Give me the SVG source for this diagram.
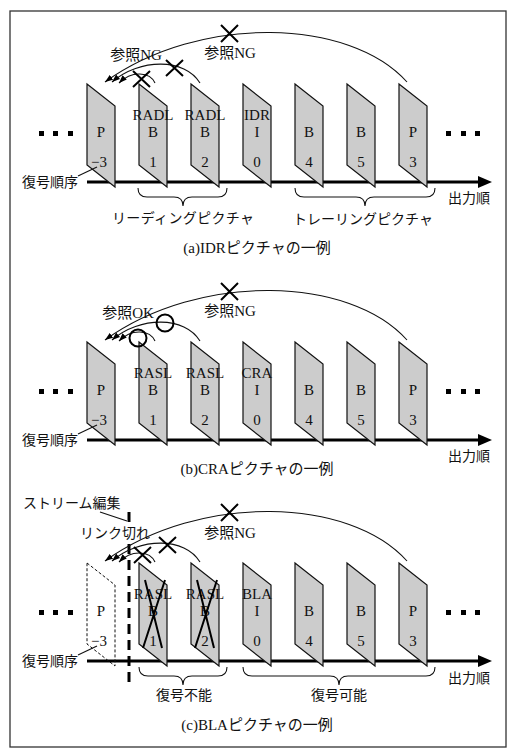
<svg xmlns="http://www.w3.org/2000/svg" width="512" height="752" viewBox="0 0 512 752">
<style>
text{font-family:"Liberation Serif","Noto Sans CJK JP",serif;fill:#111}
.l{font-size:15px;text-anchor:middle}
.j{font-size:14px;font-family:"Noto Sans CJK JP",sans-serif}
.jm{font-size:14px;font-family:"Noto Sans CJK JP",sans-serif;text-anchor:middle}
.cap{font-size:15px;text-anchor:middle}
.pic{fill:#cccccc;stroke:#111;stroke-width:1.2}
.dpic{fill:none;stroke:#111;stroke-width:1;stroke-dasharray:3 2}
.axis{stroke:#000;stroke-width:3.2}
.thin{fill:none;stroke:#111;stroke-width:1.1}
.arc{fill:none;stroke:#111;stroke-width:1.1;marker-end:url(#ah)}
.x{stroke:#000;stroke-width:2}
.o{fill:none;stroke:#000;stroke-width:2}
.cr{stroke:#000;stroke-width:2}
.dot{fill:#000}
</style>
<defs>
<marker id="ah" markerUnits="userSpaceOnUse" markerWidth="9" markerHeight="6" refX="8" refY="3" orient="auto"><path d="M0,0 L8,3 L0,6 z" fill="#000"/></marker>
<g id="dots"><rect class="dot" x="39" y="131" width="5" height="5"/><rect class="dot" x="53" y="131" width="5" height="5"/><rect class="dot" x="68" y="131" width="5" height="5"/><rect class="dot" x="446" y="131" width="5" height="5"/><rect class="dot" x="461" y="131" width="5" height="5"/><rect class="dot" x="475" y="131" width="5" height="5"/></g>
<g id="axisdef"><line class="axis" x1="87" y1="182" x2="480" y2="182"/><polygon points="478,176 492,182 478,188" fill="#000"/></g>
</defs>
<rect x="10" y="11" width="496" height="736" fill="none" stroke="#333" stroke-width="1.3"/>

<!-- Panel (a) -->
<g id="panel-a">
<use href="#dots"/>
<use href="#axisdef"/>
<g id="a-p-3"><polygon class="pic" points="87,84 115,106 115,187 87,165"/><text class="l" x="101" y="137">P</text><text class="l" x="99" y="167">−3</text></g>
<g id="a-b1"><polygon class="pic" points="139,84 167,106 167,187 139,165"/><text class="l" x="153" y="120">RADL</text><text class="l" x="153" y="137">B</text><text class="l" x="153" y="167">1</text></g>
<g id="a-b2"><polygon class="pic" points="191,84 219,106 219,187 191,165"/><text class="l" x="205" y="120">RADL</text><text class="l" x="205" y="137">B</text><text class="l" x="205" y="167">2</text></g>
<g id="a-i0"><polygon class="pic" points="243,84 271,106 271,187 243,165"/><text class="l" x="257" y="120">IDR</text><text class="l" x="257" y="137">I</text><text class="l" x="257" y="167">0</text></g>
<g id="a-b4"><polygon class="pic" points="295,84 323,106 323,187 295,165"/><text class="l" x="309" y="137">B</text><text class="l" x="309" y="167">4</text></g>
<g id="a-b5"><polygon class="pic" points="347,84 375,106 375,187 347,165"/><text class="l" x="361" y="137">B</text><text class="l" x="361" y="167">5</text></g>
<g id="a-p3"><polygon class="pic" points="399,84 427,106 427,187 399,165"/><text class="l" x="413" y="137">P</text><text class="l" x="413" y="167">3</text></g>
<g id="a-labels">
<text class="j" x="22" y="187">復号順序</text>
<line class="thin" x1="78" y1="176" x2="97" y2="167"/>
<text class="j" x="448" y="203">出力順</text>
<path class="thin" d="M138 188 Q138 197 147 197 L174 197 Q183 197 183 206 Q183 197 192 197 L218 197 Q227 197 227 188"/>
<path class="thin" d="M295 188 Q295 197 304 197 L356 197 Q365 197 365 206 Q365 197 374 197 L426 197 Q435 197 435 188"/>
<text class="jm" x="183" y="223" textLength="142">リーディングピクチャ</text>
<text class="jm" x="363" y="224" textLength="140">トレーリングピクチャ</text>
<text class="l" x="136" y="60">参照NG</text>
<text class="l" x="230" y="58">参照NG</text>
<text class="cap" x="257" y="253">(a)IDRピクチャの一例</text>
</g>
<g id="a-connectors">
<path class="arc" d="M407 82 C350 18 200 14 105 82"/>
<path class="arc" d="M200 83 C185 58 140 58 112 82"/>
<path class="arc" d="M155 83 C150 72 132 70 119 83"/>
<path class="x" d="M221 25 L238 42 M238 25 L221 42"/>
<path class="x" d="M166 60 L183 76 M183 60 L166 76"/>
<path class="x" d="M133 71 L150 87 M150 71 L133 87"/>
</g>
</g>

<!-- Panel (b) -->
<g id="panel-b" transform="translate(0,258)">
<use href="#dots"/>
<use href="#axisdef"/>
<g id="b-p-3"><polygon class="pic" points="87,84 115,106 115,187 87,165"/><text class="l" x="101" y="137">P</text><text class="l" x="99" y="167">−3</text></g>
<g id="b-b1"><polygon class="pic" points="139,84 167,106 167,187 139,165"/><text class="l" x="153" y="120">RASL</text><text class="l" x="153" y="137">B</text><text class="l" x="153" y="167">1</text></g>
<g id="b-b2"><polygon class="pic" points="191,84 219,106 219,187 191,165"/><text class="l" x="205" y="120">RASL</text><text class="l" x="205" y="137">B</text><text class="l" x="205" y="167">2</text></g>
<g id="b-i0"><polygon class="pic" points="243,84 271,106 271,187 243,165"/><text class="l" x="257" y="120">CRA</text><text class="l" x="257" y="137">I</text><text class="l" x="257" y="167">0</text></g>
<g id="b-b4"><polygon class="pic" points="295,84 323,106 323,187 295,165"/><text class="l" x="309" y="137">B</text><text class="l" x="309" y="167">4</text></g>
<g id="b-b5"><polygon class="pic" points="347,84 375,106 375,187 347,165"/><text class="l" x="361" y="137">B</text><text class="l" x="361" y="167">5</text></g>
<g id="b-p3"><polygon class="pic" points="399,84 427,106 427,187 399,165"/><text class="l" x="413" y="137">P</text><text class="l" x="413" y="167">3</text></g>
<g id="b-labels">
<text class="j" x="22" y="187">復号順序</text>
<line class="thin" x1="78" y1="176" x2="97" y2="167"/>
<text class="j" x="448" y="203">出力順</text>
<text class="l" x="128" y="60">参照OK</text>
<text class="l" x="230" y="58">参照NG</text>
<text class="cap" x="257" y="216">(b)CRAピクチャの一例</text>
</g>
<g id="b-connectors">
<path class="arc" d="M407 82 C350 18 200 14 105 82"/>
<path class="arc" d="M200 83 C185 58 140 58 112 82"/>
<path class="arc" d="M155 83 C150 72 132 70 119 83"/>
<path class="x" d="M221 25 L238 42 M238 25 L221 42"/>
<circle class="o" cx="165" cy="65" r="8.5"/>
<circle class="o" cx="138" cy="80" r="8.5"/>
</g>
</g>

<!-- Panel (c) -->
<g id="panel-c" transform="translate(0,479)">
<use href="#dots"/>
<use href="#axisdef"/>
<g id="c-p-3"><polygon class="dpic" points="87,84 115,106 115,187 87,165"/><text class="l" x="101" y="137">P</text><text class="l" x="99" y="167">−3</text></g>
<g id="c-b1"><polygon class="pic" points="139,84 167,106 167,187 139,165"/><text class="l" x="153" y="120">RASL</text><text class="l" x="153" y="137">B</text><text class="l" x="153" y="167">1</text><path class="cr" d="M145 101 L162 169 M165 101 L143 169"/></g>
<g id="c-b2"><polygon class="pic" points="191,84 219,106 219,187 191,165"/><text class="l" x="205" y="120">RASL</text><text class="l" x="205" y="137">B</text><text class="l" x="205" y="167">2</text><path class="cr" d="M197 101 L214 169 M217 101 L195 169"/></g>
<g id="c-i0"><polygon class="pic" points="243,84 271,106 271,187 243,165"/><text class="l" x="257" y="120">BLA</text><text class="l" x="257" y="137">I</text><text class="l" x="257" y="167">0</text></g>
<g id="c-b4"><polygon class="pic" points="295,84 323,106 323,187 295,165"/><text class="l" x="309" y="137">B</text><text class="l" x="309" y="167">4</text></g>
<g id="c-b5"><polygon class="pic" points="347,84 375,106 375,187 347,165"/><text class="l" x="361" y="137">B</text><text class="l" x="361" y="167">5</text></g>
<g id="c-p3"><polygon class="pic" points="399,84 427,106 427,187 399,165"/><text class="l" x="413" y="137">P</text><text class="l" x="413" y="167">3</text></g>
<g id="c-edit">
<line x1="129" y1="33" x2="129" y2="209" stroke="#000" stroke-width="3" stroke-dasharray="10 6"/>
<text class="j" x="23" y="29">ストリーム編集</text>
<line class="thin" x1="100" y1="33" x2="127" y2="42"/>
<rect x="80" y="46" width="70" height="17" fill="#fff"/>
<text class="j" x="80" y="59">リンク切れ</text>
</g>
<g id="c-labels">
<text class="j" x="22" y="187">復号順序</text>
<line class="thin" x1="78" y1="176" x2="97" y2="167"/>
<text class="j" x="448" y="204">出力順</text>
<path class="thin" d="M139 188 Q139 197 148 197 L174 197 Q183 197 183 206 Q183 197 192 197 L218 197 Q227 197 227 188"/>
<path class="thin" d="M243 188 Q243 197 252 197 L330 197 Q339 197 339 206 Q339 197 348 197 L426 197 Q435 197 435 188"/>
<text class="jm" x="184" y="221">復号不能</text>
<text class="jm" x="339" y="221">復号可能</text>
<text class="l" x="230" y="59">参照NG</text>
<text class="cap" x="257" y="251">(c)BLAピクチャの一例</text>
</g>
<g id="c-connectors">
<path class="arc" d="M407 82 C350 18 200 14 105 82"/>
<path class="arc" d="M200 83 C185 58 140 58 112 82"/>
<path class="arc" d="M155 83 C150 72 132 70 119 83"/>
<path class="x" d="M221 25 L238 42 M238 25 L221 42"/>
<path class="x" d="M159 58 L176 74 M176 58 L159 74"/>
<path class="x" d="M134 68 L151 84 M151 68 L134 84"/>
</g>
</g>
</svg>
